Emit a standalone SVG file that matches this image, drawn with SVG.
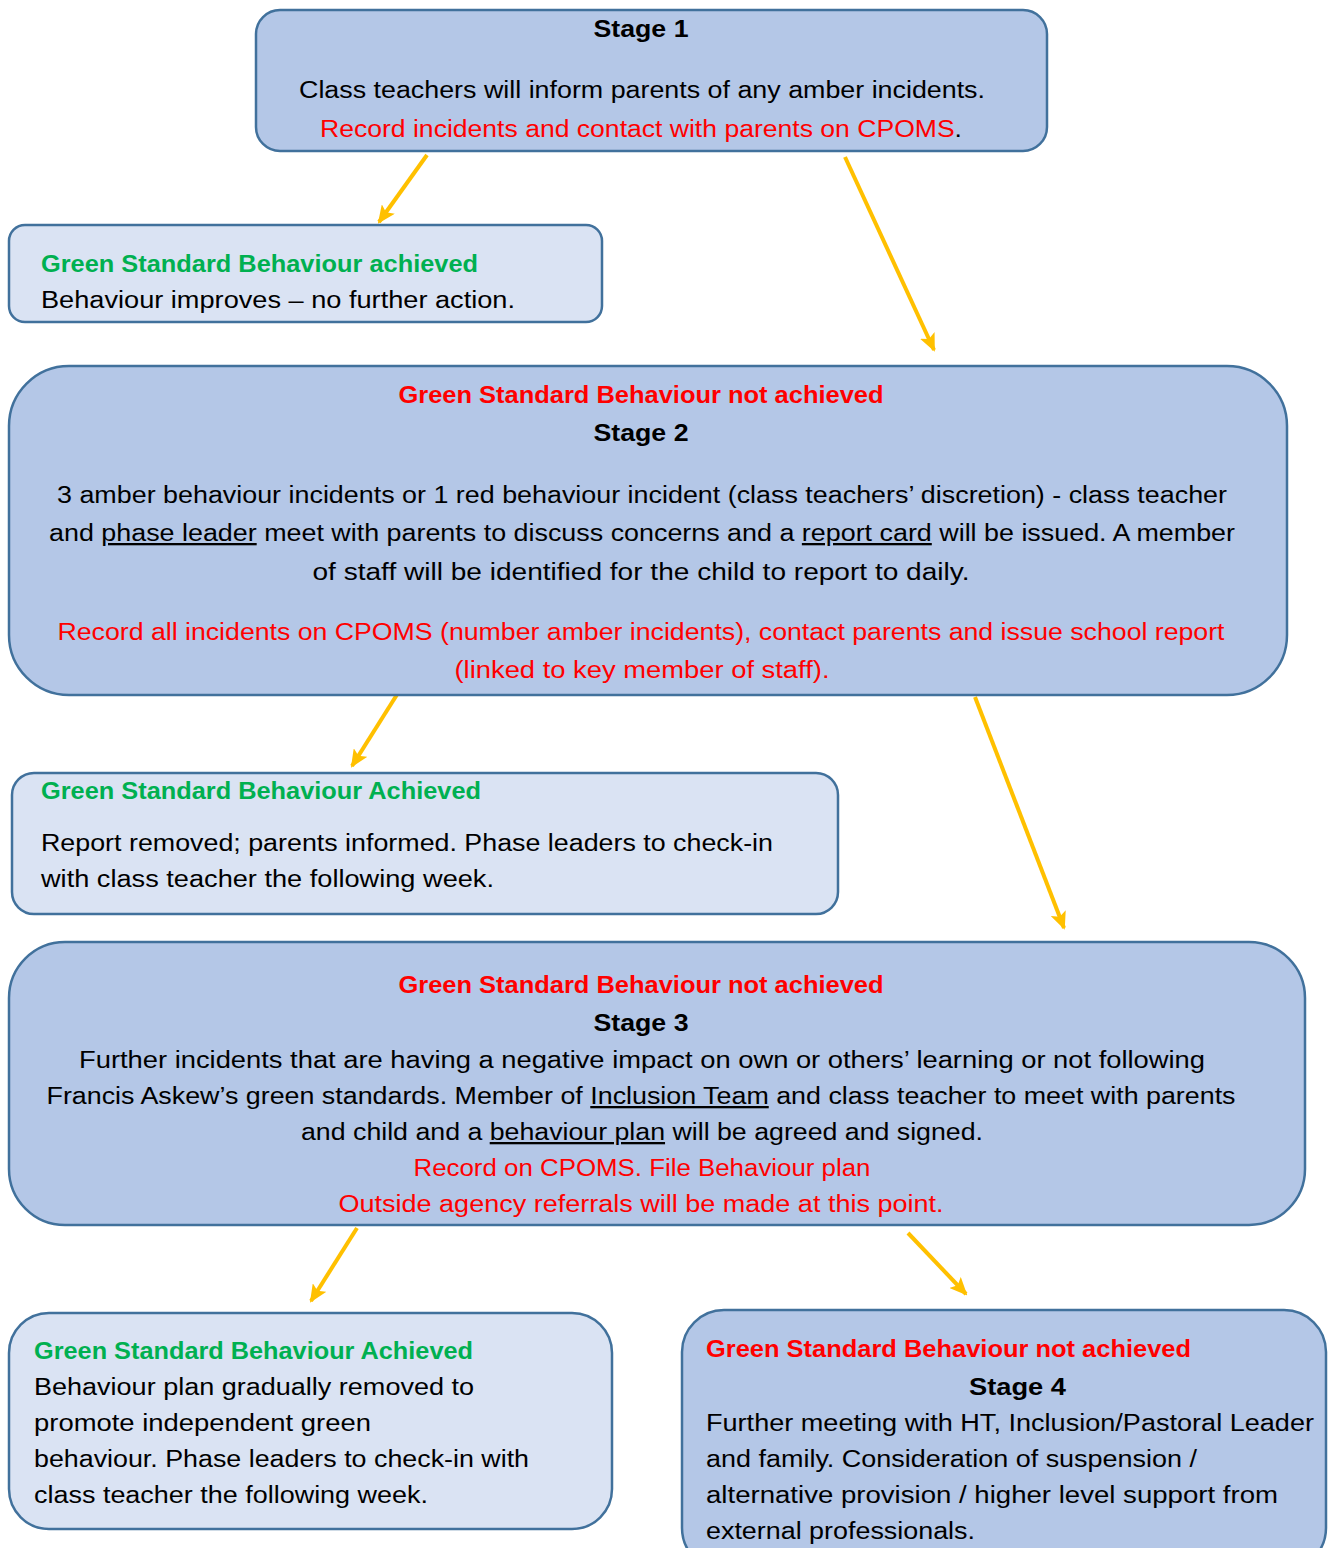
<svg xmlns="http://www.w3.org/2000/svg" width="1336" height="1548" viewBox="0 0 1336 1548">
<defs>
<style>
text{font-family:"Liberation Sans",Arial,sans-serif;font-size:23px;fill:#000}
.b{font-weight:bold}
.r{fill:#FF0000}
.g{fill:#00B050}
.c{text-anchor:middle}
.u{text-decoration:underline}
.dark{fill:#B4C7E7;stroke:#41719C;stroke-width:2.5}
.light{fill:#DAE3F3;stroke:#41719C;stroke-width:2.5}
.arr{stroke:#FFC000;stroke-width:4;fill:none;marker-end:url(#ah)}
</style>
<marker id="ah" markerUnits="userSpaceOnUse" markerWidth="18" markerHeight="16" refX="16" refY="8" orient="auto">
<path d="M0,0 L18,8 L0,16 L4,8 Z" fill="#FFC000"/>
</marker>
</defs>

<g id="connectors">
<line class="arr" x1="427" y1="155" x2="379" y2="222"/>
<line class="arr" x1="845" y1="157" x2="934" y2="350"/>
<line class="arr" x1="398" y1="693" x2="352" y2="766"/>
<line class="arr" x1="975" y1="697" x2="1064" y2="928"/>
<line class="arr" x1="357" y1="1228" x2="311" y2="1301"/>
<line class="arr" x1="908" y1="1233" x2="966" y2="1294"/>
</g>

<g id="stage1">
<rect class="dark" x="256" y="10" width="791" height="141" rx="24"/>
<text class="b c" x="641" y="37" textLength="95" lengthAdjust="spacingAndGlyphs">Stage 1</text>
<text class="c" x="642" y="98" textLength="686" lengthAdjust="spacingAndGlyphs">Class teachers will inform parents of any amber incidents.</text>
<text class="c" x="641" y="137" textLength="642" lengthAdjust="spacingAndGlyphs"><tspan class="r">Record incidents and contact with parents on CPOMS</tspan>.</text>
</g>

<g id="achieved1">
<rect class="light" x="9" y="225" width="593" height="97" rx="16"/>
<text class="b g" x="41" y="272" textLength="437" lengthAdjust="spacingAndGlyphs">Green Standard Behaviour achieved</text>
<text x="41" y="308" textLength="474" lengthAdjust="spacingAndGlyphs">Behaviour improves – no further action.</text>
</g>

<g id="stage2">
<rect class="dark" x="9" y="366" width="1278" height="329" rx="60"/>
<text class="b r c" x="641" y="403" textLength="485" lengthAdjust="spacingAndGlyphs">Green Standard Behaviour not achieved</text>
<text class="b c" x="641" y="441" textLength="95" lengthAdjust="spacingAndGlyphs">Stage 2</text>
<text class="c" x="642" y="503" textLength="1170" lengthAdjust="spacingAndGlyphs">3 amber behaviour incidents or 1 red behaviour incident (class teachers’ discretion) - class teacher</text>
<text class="c" x="642" y="541" textLength="1186" lengthAdjust="spacingAndGlyphs">and <tspan class="u">phase leader</tspan> meet with parents to discuss concerns and a <tspan class="u">report card</tspan> will be issued. A member</text>
<text class="c" x="641" y="580" textLength="657" lengthAdjust="spacingAndGlyphs">of staff will be identified for the child to report to daily.</text>
<text class="r c" x="641" y="640" textLength="1167" lengthAdjust="spacingAndGlyphs">Record all incidents on CPOMS (number amber incidents), contact parents and issue school report</text>
<text class="r c" x="642" y="678" textLength="375" lengthAdjust="spacingAndGlyphs">(linked to key member of staff).</text>
</g>

<g id="achieved2">
<rect class="light" x="12" y="773" width="826" height="141" rx="22"/>
<text class="b g" x="41" y="799" textLength="440" lengthAdjust="spacingAndGlyphs">Green Standard Behaviour Achieved</text>
<text x="41" y="851" textLength="732" lengthAdjust="spacingAndGlyphs">Report removed; parents informed. Phase leaders to check-in</text>
<text x="41" y="887" textLength="453" lengthAdjust="spacingAndGlyphs">with class teacher the following week.</text>
</g>

<g id="stage3">
<rect class="dark" x="9" y="942" width="1296" height="283" rx="56"/>
<text class="b r c" x="641" y="993" textLength="485" lengthAdjust="spacingAndGlyphs">Green Standard Behaviour not achieved</text>
<text class="b c" x="641" y="1031" textLength="95" lengthAdjust="spacingAndGlyphs">Stage 3</text>
<text class="c" x="642" y="1068" textLength="1126" lengthAdjust="spacingAndGlyphs">Further incidents that are having a negative impact on own or others’ learning or not following</text>
<text class="c" x="641" y="1104" textLength="1189" lengthAdjust="spacingAndGlyphs">Francis Askew’s green standards. Member of <tspan class="u">Inclusion Team</tspan> and class teacher to meet with parents</text>
<text class="c" x="642" y="1140" textLength="682" lengthAdjust="spacingAndGlyphs">and child and a <tspan class="u">behaviour plan</tspan> will be agreed and signed.</text>
<text class="r c" x="642" y="1176" textLength="457" lengthAdjust="spacingAndGlyphs">Record on CPOMS. File Behaviour plan</text>
<text class="r c" x="641" y="1212" textLength="605" lengthAdjust="spacingAndGlyphs">Outside agency referrals will be made at this point.</text>
</g>

<g id="achieved3">
<rect class="light" x="9" y="1313" width="603" height="216" rx="40"/>
<text class="b g" x="34" y="1359" textLength="439" lengthAdjust="spacingAndGlyphs">Green Standard Behaviour Achieved</text>
<text x="34" y="1395" textLength="440" lengthAdjust="spacingAndGlyphs">Behaviour plan gradually removed to</text>
<text x="34" y="1431" textLength="337" lengthAdjust="spacingAndGlyphs">promote independent green</text>
<text x="34" y="1467" textLength="495" lengthAdjust="spacingAndGlyphs">behaviour. Phase leaders to check-in with</text>
<text x="34" y="1503" textLength="394" lengthAdjust="spacingAndGlyphs">class teacher the following week.</text>
</g>

<g id="stage4">
<rect class="dark" x="682" y="1310" width="644" height="260" rx="42"/>
<text class="b r" x="706" y="1357" textLength="485" lengthAdjust="spacingAndGlyphs">Green Standard Behaviour not achieved</text>
<text class="b" x="969" y="1395" textLength="97" lengthAdjust="spacingAndGlyphs">Stage 4</text>
<text x="706" y="1431" textLength="608" lengthAdjust="spacingAndGlyphs">Further meeting with HT, Inclusion/Pastoral Leader</text>
<text x="706" y="1467" textLength="491" lengthAdjust="spacingAndGlyphs">and family. Consideration of suspension /</text>
<text x="706" y="1503" textLength="572" lengthAdjust="spacingAndGlyphs">alternative provision / higher level support from</text>
<text x="706" y="1539" textLength="269" lengthAdjust="spacingAndGlyphs">external professionals.</text>
</g>
</svg>
